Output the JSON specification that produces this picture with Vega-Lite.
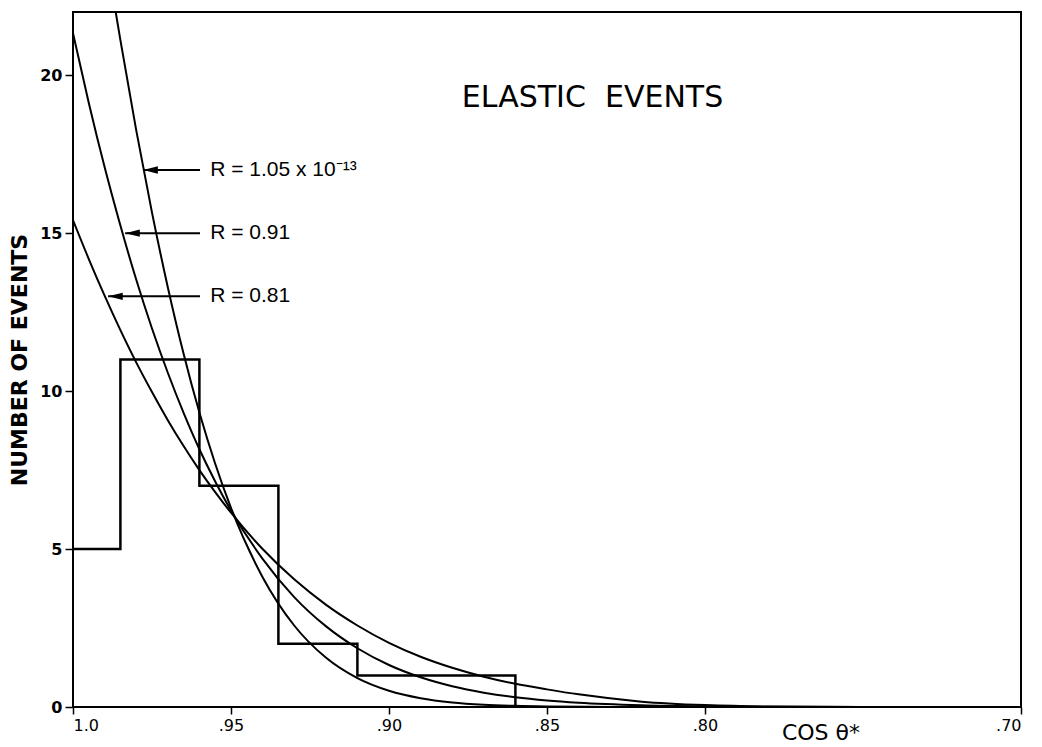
{
  "$schema": "https://vega.github.io/schema/vega-lite/v6.json",
  "width": 948,
  "height": 695,
  "autosize": "none",
  "padding": {"left": 73, "top": 12, "right": 21, "bottom": 40},
  "background": "white",
  "config": {
    "view": {"stroke": "black", "strokeWidth": 2},
    "font": "DejaVu Sans",
    "axis": {"grid": false, "domain": false, "tickColor": "black", "tickWidth": 1.5, "labelColor": "black", "titleColor": "black"}
  },
  "datasets": {
    "curves": [
      {"curve": "A", "cos": 0.98649, "n": 22.0},
      {"curve": "A", "cos": 0.985, "n": 21.11},
      {"curve": "A", "cos": 0.98, "n": 18.26},
      {"curve": "A", "cos": 0.975, "n": 15.65},
      {"curve": "A", "cos": 0.97, "n": 13.29},
      {"curve": "A", "cos": 0.965, "n": 11.18},
      {"curve": "A", "cos": 0.96, "n": 9.32},
      {"curve": "A", "cos": 0.955, "n": 7.7},
      {"curve": "A", "cos": 0.95, "n": 6.3},
      {"curve": "A", "cos": 0.94, "n": 4.11},
      {"curve": "A", "cos": 0.93, "n": 2.58},
      {"curve": "A", "cos": 0.92, "n": 1.565},
      {"curve": "A", "cos": 0.91, "n": 0.914},
      {"curve": "A", "cos": 0.9, "n": 0.514},
      {"curve": "A", "cos": 0.89, "n": 0.279},
      {"curve": "A", "cos": 0.88, "n": 0.146},
      {"curve": "A", "cos": 0.87, "n": 0.074},
      {"curve": "A", "cos": 0.86, "n": 0.036},
      {"curve": "A", "cos": 0.85, "n": 0.017},
      {"curve": "A", "cos": 0.83, "n": 0.003},
      {"curve": "B", "cos": 1.0, "n": 21.33},
      {"curve": "B", "cos": 0.995, "n": 19.12},
      {"curve": "B", "cos": 0.99, "n": 17.09},
      {"curve": "B", "cos": 0.985, "n": 15.24},
      {"curve": "B", "cos": 0.98, "n": 13.53},
      {"curve": "B", "cos": 0.975, "n": 11.98},
      {"curve": "B", "cos": 0.97, "n": 10.58},
      {"curve": "B", "cos": 0.965, "n": 9.31},
      {"curve": "B", "cos": 0.96, "n": 8.16},
      {"curve": "B", "cos": 0.955, "n": 7.14},
      {"curve": "B", "cos": 0.95, "n": 6.22},
      {"curve": "B", "cos": 0.94, "n": 4.69},
      {"curve": "B", "cos": 0.93, "n": 3.48},
      {"curve": "B", "cos": 0.92, "n": 2.56},
      {"curve": "B", "cos": 0.91, "n": 1.86},
      {"curve": "B", "cos": 0.9, "n": 1.33},
      {"curve": "B", "cos": 0.89, "n": 0.94},
      {"curve": "B", "cos": 0.88, "n": 0.657},
      {"curve": "B", "cos": 0.87, "n": 0.454},
      {"curve": "B", "cos": 0.86, "n": 0.309},
      {"curve": "B", "cos": 0.85, "n": 0.208},
      {"curve": "B", "cos": 0.84, "n": 0.138},
      {"curve": "B", "cos": 0.82, "n": 0.059},
      {"curve": "B", "cos": 0.8, "n": 0.023},
      {"curve": "B", "cos": 0.78, "n": 0.009},
      {"curve": "B", "cos": 0.75, "n": 0.0},
      {"curve": "C", "cos": 1.0, "n": 15.41},
      {"curve": "C", "cos": 0.995, "n": 14.18},
      {"curve": "C", "cos": 0.99, "n": 13.02},
      {"curve": "C", "cos": 0.985, "n": 11.93},
      {"curve": "C", "cos": 0.98, "n": 10.91},
      {"curve": "C", "cos": 0.975, "n": 9.97},
      {"curve": "C", "cos": 0.97, "n": 9.08},
      {"curve": "C", "cos": 0.965, "n": 8.26},
      {"curve": "C", "cos": 0.96, "n": 7.5},
      {"curve": "C", "cos": 0.955, "n": 6.8},
      {"curve": "C", "cos": 0.95, "n": 6.15},
      {"curve": "C", "cos": 0.94, "n": 5.0},
      {"curve": "C", "cos": 0.93, "n": 4.04},
      {"curve": "C", "cos": 0.92, "n": 3.24},
      {"curve": "C", "cos": 0.91, "n": 2.58},
      {"curve": "C", "cos": 0.9, "n": 2.03},
      {"curve": "C", "cos": 0.89, "n": 1.59},
      {"curve": "C", "cos": 0.88, "n": 1.24},
      {"curve": "C", "cos": 0.87, "n": 0.957},
      {"curve": "C", "cos": 0.86, "n": 0.733},
      {"curve": "C", "cos": 0.85, "n": 0.558},
      {"curve": "C", "cos": 0.84, "n": 0.4},
      {"curve": "C", "cos": 0.82, "n": 0.17},
      {"curve": "C", "cos": 0.8, "n": 0.06},
      {"curve": "C", "cos": 0.78, "n": 0.015},
      {"curve": "C", "cos": 0.75, "n": 0.0}
    ],
    "hist": [
      {"i": 1, "cos": 1.0, "n": 5},
      {"i": 2, "cos": 0.985, "n": 5},
      {"i": 3, "cos": 0.985, "n": 11},
      {"i": 4, "cos": 0.96, "n": 11},
      {"i": 5, "cos": 0.96, "n": 7},
      {"i": 6, "cos": 0.935, "n": 7},
      {"i": 7, "cos": 0.935, "n": 2},
      {"i": 8, "cos": 0.91, "n": 2},
      {"i": 9, "cos": 0.91, "n": 1},
      {"i": 10, "cos": 0.86, "n": 1},
      {"i": 11, "cos": 0.86, "n": 0}
    ],
    "arrows": [
      {"label": "R = 1.05 x 10⁻¹³", "tip": 0.9778, "tail": 0.9598, "text": 0.9566, "n": 17},
      {"label": "R = 0.91", "tip": 0.9835, "tail": 0.9598, "text": 0.9566, "n": 15},
      {"label": "R = 0.81", "tip": 0.9889, "tail": 0.9598, "text": 0.9566, "n": 13}
    ],
    "notes": [
      {"t": "ELASTIC\u00a0 EVENTS", "cos": 0.8356, "n": 19.29, "kind": "title"},
      {"t": "COS θ*", "cos": 0.7633, "n": -0.82, "kind": "xlab"}
    ]
  },
  "layer": [
    {
      "data": {"name": "curves"},
      "mark": {"type": "line", "color": "black", "strokeWidth": 2, "interpolate": "monotone", "clip": true},
      "encoding": {
        "x": {
          "field": "cos", "type": "quantitative",
          "scale": {"domain": [0.7, 1.0], "reverse": true, "nice": false, "zero": false},
          "axis": {
            "values": [1.0, 0.95, 0.9, 0.85, 0.8, 0.7],
            "labelExpr": "datum.value == 1 ? '1.0' : replace(format(datum.value, '.2f'), '0.', '.')",
            "title": null, "tickSize": 7, "labelFontSize": 16, "labelPadding": 3
          }
        },
        "y": {
          "field": "n", "type": "quantitative",
          "scale": {"domain": [0, 22], "nice": false},
          "axis": {
            "values": [0, 5, 10, 15, 20],
            "title": "NUMBER OF EVENTS", "titleFontSize": 22, "titleFontWeight": "bold", "titlePadding": 8,
            "tickSize": 8, "labelFontSize": 16, "labelFontWeight": "bold", "labelPadding": 3
          }
        },
        "detail": {"field": "curve"}
      }
    },
    {
      "data": {"name": "hist"},
      "mark": {"type": "line", "color": "black", "strokeWidth": 2.5},
      "encoding": {
        "x": {"field": "cos", "type": "quantitative"},
        "y": {"field": "n", "type": "quantitative"},
        "order": {"field": "i"}
      }
    },
    {
      "data": {"name": "arrows"},
      "mark": {"type": "rule", "color": "black", "strokeWidth": 2},
      "encoding": {
        "x": {"field": "tip", "type": "quantitative"},
        "x2": {"field": "tail"},
        "y": {"field": "n", "type": "quantitative"}
      }
    },
    {
      "data": {"name": "arrows"},
      "mark": {"type": "point", "shape": "M0,0L2.4,-0.6L2.4,0.6Z", "filled": true, "color": "black", "opacity": 1, "size": 150},
      "encoding": {
        "x": {"field": "tip", "type": "quantitative"},
        "y": {"field": "n", "type": "quantitative"}
      }
    },
    {
      "data": {"name": "arrows"},
      "mark": {"type": "text", "align": "left", "baseline": "middle", "fontSize": 21, "font": "Liberation Sans", "color": "black"},
      "encoding": {
        "x": {"field": "text", "type": "quantitative"},
        "y": {"field": "n", "type": "quantitative"},
        "text": {"field": "label"}
      }
    },
    {
      "data": {"name": "notes"},
      "transform": [{"filter": "datum.kind == 'title'"}],
      "mark": {"type": "text", "align": "center", "baseline": "middle", "fontSize": 30, "color": "black"},
      "encoding": {
        "x": {"field": "cos", "type": "quantitative"},
        "y": {"field": "n", "type": "quantitative"},
        "text": {"field": "t"}
      }
    },
    {
      "data": {"name": "notes"},
      "transform": [{"filter": "datum.kind == 'xlab'"}],
      "mark": {"type": "text", "align": "center", "baseline": "middle", "fontSize": 22, "color": "black", "clip": false},
      "encoding": {
        "x": {"field": "cos", "type": "quantitative"},
        "y": {"field": "n", "type": "quantitative"},
        "text": {"field": "t"}
      }
    }
  ]
}
